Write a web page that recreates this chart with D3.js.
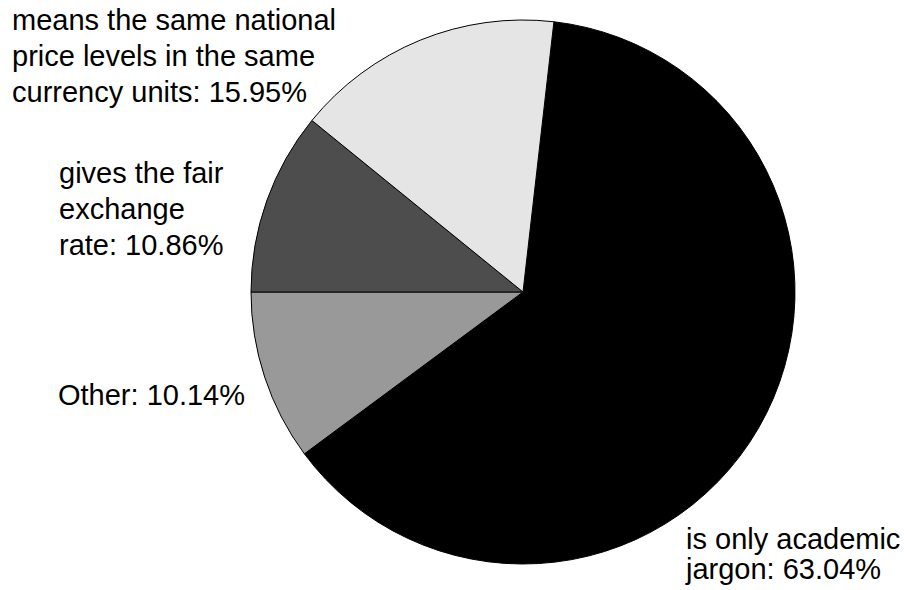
<!DOCTYPE html>
<html>
<head>
<meta charset="utf-8">
<script src="https://cdn.jsdelivr.net/npm/d3@7/dist/d3.min.js"></script>
<style>
  html, body { margin: 0; padding: 0; background: #fff; }
  svg { display: block; }
  text { font-family: "Liberation Sans", Arial, sans-serif; font-size: 29px; fill: #000; }
</style>
</head>
<body>
<svg id="chart" width="904" height="590"></svg>
<script>
// Data
const categories = [
  "is only academic jargon",
  "Other",
  "gives the fair exchange rate",
  "means the same national price levels in the same currency units"
];
const values = [63.04, 10.14, 10.86, 15.95];
const labelLines = [
  ["is only academic", "jargon: 63.04%"],
  ["Other: 10.14%"],
  ["gives the fair", "exchange", "rate: 10.86%"],
  ["means the same national", "price levels in the same", "currency units: 15.95%"]
];
const colors = ["#000000", "#999999", "#4d4d4d", "#e5e5e5"];

// Layout
const W = 904, H = 590;
const cx = 523, cy = 292, R = 272;
const labelPos = [
  { x: 686, y: 549, lh: 30 },
  { x: 58,  y: 405, lh: 36 },
  { x: 59,  y: 183, lh: 36 },
  { x: 12,  y: 29.5, lh: 36 }
];

const svg = d3.select("#chart");
const total = d3.sum(values);
// boundary between "Other" and "gives the fair" lies at 9 o'clock
const start = 2 * Math.PI * (0.75 - (values[0] + values[1]) / total);

const pie = d3.pie().sort(null).value(d => d)
  .startAngle(start).endAngle(start + 2 * Math.PI);
const arc = d3.arc().innerRadius(0).outerRadius(R);

const g = svg.append("g").attr("transform", `translate(${cx},${cy})`);
g.selectAll("path")
  .data(pie(values))
  .join("path")
  .attr("d", arc)
  .attr("fill", (d, i) => colors[i])
  .attr("stroke", "#000")
  .attr("stroke-width", 1);

const labels = svg.append("g");
labelLines.forEach((lines, i) => {
  const p = labelPos[i];
  const t = labels.append("text").attr("x", p.x).attr("y", p.y);
  lines.forEach((ln, j) => {
    t.append("tspan").attr("x", p.x).attr("y", p.y + j * p.lh).text(ln);
  });
});
</script>
</body>
</html>
